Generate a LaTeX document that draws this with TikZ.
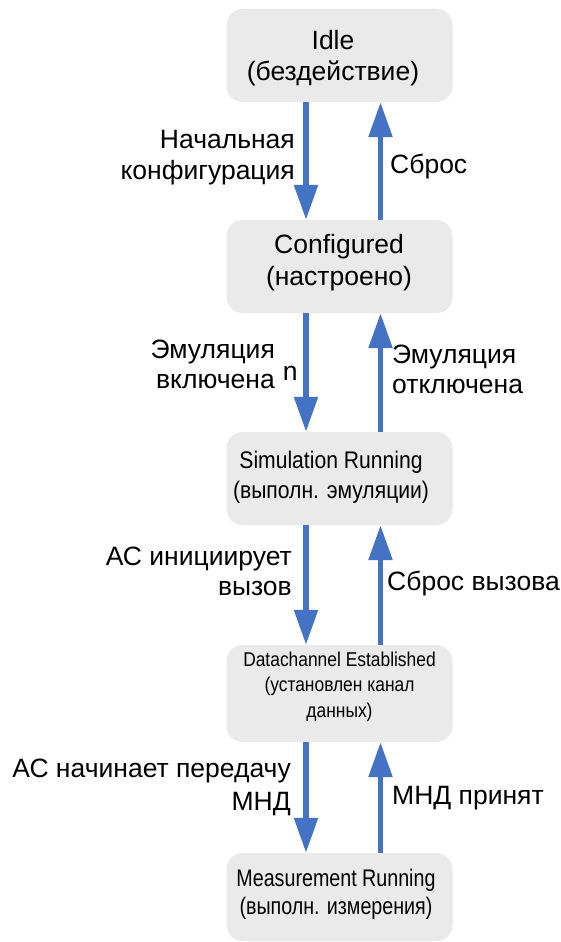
\documentclass[tikz,border=0pt]{standalone}
\usepackage{fontspec}
\setmainfont{Liberation Sans}
\newfontfamily\simfont[FakeStretch=0.88]{Liberation Sans}
\newfontfamily\dcfont[FakeStretch=0.87]{Liberation Sans}
\newfontfamily\msfont[FakeStretch=0.82]{Liberation Sans}
\usetikzlibrary{arrows.meta}
\definecolor{boxgray}{RGB}{234,234,234}
\definecolor{flowblue}{RGB}{68,114,196}
\tikzset{
  statebox/.style={fill=boxgray, rounded corners=16pt, minimum width=226pt, inner sep=0pt},
  statetext/.style={align=center, anchor=base, inner sep=0pt},
  flow/.style={draw=flowblue, line width=5.5pt, -{Triangle[width=23pt,length=35pt]}, color=flowblue},
  lbl/.style={inner sep=0pt},
}
\begin{document}
\begin{tikzpicture}[x=1pt,y=-1pt]
\useasboundingbox (0,0) rectangle (561,942);
% boxes
\node[statebox, minimum height=93pt] (idle) at (339.5,55.5) {};
\node[statebox, minimum height=93pt] (conf) at (339.5,266.5) {};
\node[statebox, minimum height=93pt] (sim) at (339.5,478.5) {};
\node[statebox, minimum height=97pt] (dc) at (339.5,693.5) {};
\node[statebox, minimum height=88pt] (ms) at (339.5,897) {};
% box texts
\node[statetext, font=\fontsize{26.5}{31}\selectfont] (idleT) at (333,81) {Idle\\(бездействие)};
\node[statetext, font=\fontsize{26.5}{32}\selectfont] (confT) at (339,285) {Configured\\(настроено)};
\node[statetext, font=\simfont\fontsize{24}{30}\selectfont] (simT) at (331,498) {Simulation Running\\(выполн. эмуляции)};
\node[statetext, font=\dcfont\fontsize{20}{25.5}\selectfont] (dcT) at (339.5,717) {Datachannel Established\\(установлен канал\\данных)};
\node[statetext, font=\msfont\fontsize{24}{28}\selectfont] (msT) at (336,914) {Measurement Running\\(выполн. измерения)};

% transitions
\draw[flow] ([xshift=-33.5pt]idle.south) -- ([xshift=-33.5pt]conf.north);
\draw[flow] ([xshift=41pt]conf.north) -- ([xshift=41pt]idle.south);
\draw[flow] ([xshift=-33.5pt]conf.south) -- ([xshift=-33.5pt]sim.north);
\draw[flow] ([xshift=41pt]sim.north) -- ([xshift=41pt]conf.south);
\draw[flow] ([xshift=-33.5pt]sim.south) -- ([xshift=-33.5pt]dc.north);
\draw[flow] ([xshift=41pt]dc.north) -- ([xshift=41pt]sim.south);
\draw[flow] ([xshift=-33.5pt]dc.south) -- ([xshift=-33.5pt]ms.north);
\draw[flow] ([xshift=41pt]ms.north) -- ([xshift=41pt]dc.south);

% labels
\node[lbl, align=right, anchor=base east, font=\fontsize{26.5}{31}\selectfont] (l1) at (295,179) {Начальная\\конфигурация};
\node[lbl, align=right, anchor=base east, font=\fontsize{26.5}{30}\selectfont] (l2) at (275,388) {Эмуляция\\включена\rlap{\hspace{8pt}\raisebox{8pt}{n}}};
\node[lbl, align=right, anchor=base east, font=\fontsize{26.5}{30}\selectfont] (l3) at (292,595) {АС инициирует\\вызов};
\node[lbl, align=right, anchor=base east, font=\fontsize{26.5}{33}\selectfont] (l4) at (291,810) {АС начинает передачу\\МНД};

\node[lbl, anchor=base west, font=\fontsize{26.5}{31}\selectfont] (r1) at (390,173) {Сброс};
\node[lbl, align=left, anchor=base west, font=\fontsize{26.5}{30}\selectfont] (r2) at (392,393) {Эмуляция\\отключена};
\node[lbl, anchor=base west, font=\fontsize{26.5}{31}\selectfont] (r3) at (387,590) {Сброс вызова};
\node[lbl, anchor=base west, font=\fontsize{26.5}{31}\selectfont] (r4) at (392,804) {МНД принят};
\end{tikzpicture}
\end{document}
